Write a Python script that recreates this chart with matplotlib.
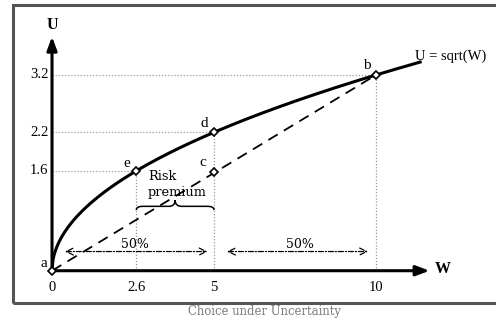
import numpy as np
import matplotlib
matplotlib.use("Agg")
import matplotlib.pyplot as plt
from matplotlib.patches import Rectangle
from matplotlib.path import Path
from matplotlib.patches import PathPatch

# wealth points and their utilities
point_names = ["a", "e", "d", "b"]
point_w = [0, 2.6, 5, 10]
point_u = [np.sqrt(w) for w in point_w]
c_w, c_u = 5, 1.6  # expected utility of the gamble
w_ticks = [0, 2.6, 5, 10]
w_tick_labels = ["0", "2.6", "5", "10"]
u_ticks = [np.sqrt(10), np.sqrt(5), np.sqrt(2.6)]
u_tick_labels = ["3.2", "2.2", "1.6"]
w_curve_max = 11.36

fig = plt.figure(figsize=(4.96, 3.2), dpi=100)
ax = fig.add_axes([0, 0, 1, 1])
ax.set_xlim(-1.605, 13.70)
ax.set_ylim(-0.796, 4.373)
ax.axis("off")

serif = ["Liberation Serif", "DejaVu Serif"]
serif2 = ["DejaVu Serif"]

# outer frame
fig.patches.append(Rectangle((13 / 496, 1 - 303 / 320), 490 / 496, 298 / 320,
                             transform=fig.transFigure, fill=False,
                             edgecolor="#555555", linewidth=2.2))
fig.text(265 / 496, 1 - 312 / 320, "Choice under Uncertainty", ha="center", va="center",
         fontsize=8.4, color="#7a7a7a", family=serif2)

# axes with arrows
ax.annotate("", xy=(11.65, 0), xytext=(0, 0),
            arrowprops=dict(arrowstyle="-|>,head_length=0.8,head_width=0.3", color="black", lw=2.2, shrinkA=0, shrinkB=0))
ax.annotate("", xy=(0, 3.78), xytext=(0, 0),
            arrowprops=dict(arrowstyle="-|>,head_length=0.8,head_width=0.3", color="black", lw=2.2, shrinkA=0, shrinkB=0))
ax.text(0, 3.97, "U", ha="center", va="center", fontsize=11.5, family=serif, weight="bold")
ax.text(12.05, 0.03, "W", ha="center", va="center", fontsize=11.5, family=serif, weight="bold")

# guide lines
for w, u in zip(point_w[1:], point_u[1:]):
    ax.plot([0, w], [u, u], color="#999999", lw=0.9, ls=(0, (1, 1.5)), zorder=1)
    ax.plot([w, w], [0, u], color="#999999", lw=0.9, ls=(0, (1, 1.5)), zorder=1)

# utility curve
wc = np.linspace(0, w_curve_max, 400)
ax.plot(wc, np.sqrt(wc), color="black", lw=2.2, zorder=3)
ax.text(11.2, 3.46, "U = sqrt(W)", ha="left", va="center", fontsize=10.5, family=serif)

# chord a-b
ax.plot([point_w[0], point_w[3]], [point_u[0], point_u[3]], color="black", lw=1.3,
        ls=(0, (6, 4)), zorder=2)

# points
ax.plot(point_w, point_u, ls="none", marker="D", ms=4.5, mfc="white", mec="black", mew=1.2, zorder=4)
ax.plot([c_w], [c_u], ls="none", marker="D", ms=4.5, mfc="white", mec="black", mew=1.2, zorder=4)
label_off = [(-0.25, 0.12), (-0.3, 0.12), (-0.3, 0.15), (-0.3, 0.15)]
for name, w, u, (dx, dy) in zip(point_names, point_w, point_u, label_off):
    ax.text(w + dx, u + dy, name, ha="center", va="center", fontsize=11, family=serif)
ax.text(c_w - 0.35, c_u + 0.15, "c", ha="center", va="center", fontsize=11, family=serif)

# tick labels
for w, lab in zip(w_ticks, w_tick_labels):
    ax.text(w, -0.27, lab, ha="center", va="center", fontsize=10.5, family=serif)
for u, lab in zip(u_ticks, u_tick_labels):
    ax.text(-0.12, u, lab, ha="right", va="center", fontsize=10.5, family=serif)

# risk premium brace
b0, b1 = point_w[1], point_w[2]
bm = (b0 + b1) / 2
yb, yt = 0.98, 1.04
verts = [(b0, yb), (b0, yt), (b0 + 0.2, yt),
         (bm - 0.2, yt), (bm, yt), (bm, 1.14),
         (bm, yt), (bm + 0.2, yt),
         (b1 - 0.2, yt), (b1, yt), (b1, yb)]
codes = [Path.MOVETO, Path.CURVE3, Path.CURVE3,
         Path.LINETO, Path.CURVE3, Path.CURVE3,
         Path.CURVE3, Path.CURVE3,
         Path.LINETO, Path.CURVE3, Path.CURVE3]
ax.add_patch(PathPatch(Path(verts, codes), fill=False, lw=1.1, edgecolor="black"))
ax.text(2.96, 1.62, "Risk\npremium", ha="left", va="top", fontsize=9.3,
        family=serif2, linespacing=1.25)

# 50% arrows
arr = dict(arrowstyle="<->,head_length=0.5,head_width=0.25", color="black", lw=0.9,
           ls=(0, (4, 1.5, 1, 1.5)), shrinkA=0, shrinkB=0)
ax.annotate("", xy=(4.8, 0.31), xytext=(0.4, 0.31), arrowprops=arr)
ax.annotate("", xy=(9.75, 0.31), xytext=(5.4, 0.31), arrowprops=arr)
ax.text(2.56, 0.42, "50%", ha="center", va="center", fontsize=9, family=serif2)
ax.text(7.65, 0.42, "50%", ha="center", va="center", fontsize=9, family=serif2)

fig.savefig("out.png", dpi=100)
